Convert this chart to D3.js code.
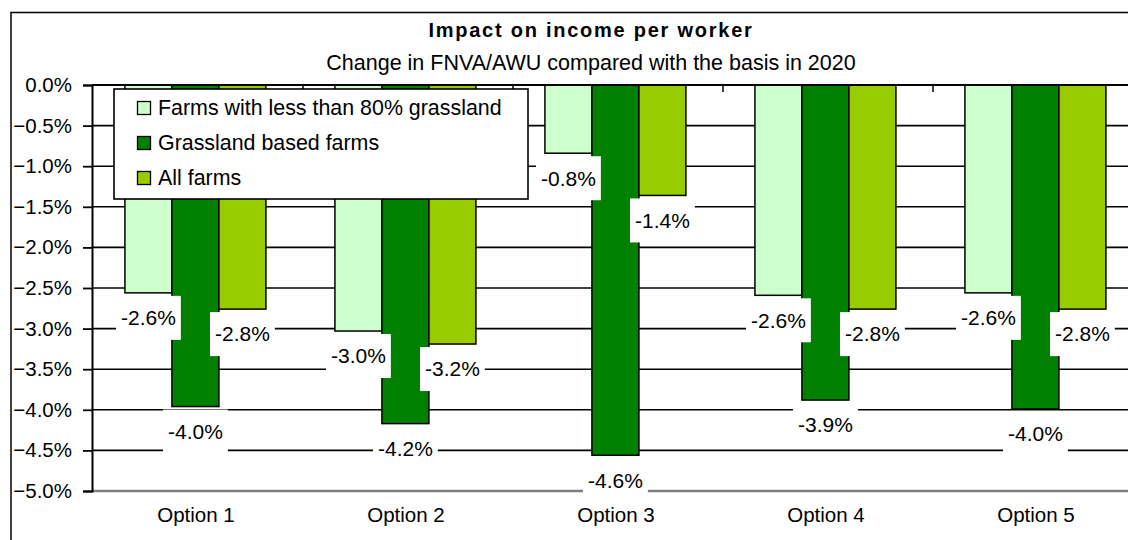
<!DOCTYPE html>
<html><head><meta charset="utf-8">
<script src="https://cdn.jsdelivr.net/npm/d3@7"></script>
<style>
html,body{margin:0;padding:0;background:#fff;}
svg text{font-family:"Liberation Sans",Arial,sans-serif;fill:#000;}
</style></head>
<body>
<svg id="chart" width="1128" height="540"></svg>
<script>
const categories = ["Option 1","Option 2","Option 3","Option 4","Option 5"];
const seriesNames = ["Farms with less than 80% grassland","Grassland based farms","All farms"];
const lessThan80 = [-2.56,-3.03,-0.84,-2.59,-2.56];
const grassland  = [-3.96,-4.17,-4.56,-3.88,-3.99];
const allFarms   = [-2.76,-3.19,-1.36,-2.76,-2.76];
const seriesValues = [lessThan80, grassland, allFarms];
const seriesColors = ["#CCFFCC","#008000","#99CC00"];
const yTicks = [0,-0.5,-1,-1.5,-2,-2.5,-3,-3.5,-4,-4.5,-5];
const titleText = "Impact on income per worker";
const subtitleText = "Change in FNVA/AWU compared with the basis in 2020";

const svg = d3.select("#chart");
const plot = {left:92, right:1143, top:85, bottom:491};

// outer border
svg.append("rect").attr("x",11).attr("y",12.5).attr("width",1160).attr("height",560)
  .attr("fill","#fff").attr("stroke","#000").attr("stroke-width",1.5);

const y = d3.scaleLinear().domain([-5,0]).range([plot.bottom, plot.top]);
const x0 = d3.scaleBand().domain(categories).range([93,1143]).padding(0);
const groupW = 141;
const x1 = d3.scaleBand().domain(seriesNames).range([0,groupW]).padding(0);
const groupStart = c => x0(c) + x0.bandwidth()*0.152;

// gridlines
svg.append("g").selectAll("line").data(yTicks.filter(t=>t<0 && t>-5)).join("line")
  .attr("x1",plot.left).attr("x2",plot.right)
  .attr("y1",d=>y(d)).attr("y2",d=>y(d))
  .attr("stroke","#000").attr("stroke-width",1.6);

// category ticks at zero line
svg.append("g").selectAll("line").data(categories.slice(1)).join("line")
  .attr("x1",d=>x0(d)).attr("x2",d=>x0(d)).attr("y1",y(0)).attr("y2",y(0)+7)
  .attr("stroke","#000").attr("stroke-width",1.5);

// bars
const barData = [];
seriesNames.forEach((s,si)=>categories.forEach((c,ci)=>barData.push({s,si,c,v:seriesValues[si][ci]})));
svg.append("g").selectAll("rect").data(barData).join("rect")
  .attr("x",d=>groupStart(d.c)+x1(d.s))
  .attr("width",x1.bandwidth())
  .attr("y",y(0))
  .attr("height",d=>y(d.v)-y(0))
  .attr("fill",d=>seriesColors[d.si])
  .attr("stroke","#000").attr("stroke-width",1.5);

// zero line
svg.append("line").attr("x1",plot.left).attr("x2",plot.right).attr("y1",y(0)).attr("y2",y(0))
  .attr("stroke","#000").attr("stroke-width",2);

// bottom axis (gray)
svg.append("line").attr("x1",plot.left).attr("x2",plot.right).attr("y1",y(-5)).attr("y2",y(-5))
  .attr("stroke","#808080").attr("stroke-width",2.6);

// left axis
const yAxis = d3.axisLeft(y).tickValues(yTicks).tickSize(9).tickPadding(11)
  .tickFormat(d=>d3.format(".1f")(d)+"%");
const ya = svg.append("g").attr("transform",`translate(${plot.left},0)`).call(yAxis);
ya.select(".domain").attr("stroke","#000").attr("stroke-width",2);
ya.selectAll(".tick line").attr("stroke","#000").attr("stroke-width",1.8);
ya.selectAll(".tick text").attr("font-size","20.5px").attr("font-family","Liberation Sans, Arial, sans-serif").attr("fill","#000");

// x category labels
const xAxis = d3.axisBottom(x0).tickSize(0).tickPadding(16);
const xa = svg.append("g").attr("transform",`translate(0,${plot.bottom})`).call(xAxis);
xa.select(".domain").remove();
xa.selectAll(".tick text").attr("font-size","20.5px").attr("font-family","Liberation Sans, Arial, sans-serif").attr("fill","#000")
  .attr("transform","translate(-2,0)");

// data labels
const lg = svg.append("g");
barData.forEach(d=>{
  const cx = groupStart(d.c)+x1(d.s)+x1.bandwidth()/2;
  const top = y(d.v)+3;
  const g = lg.append("g");
  const r = g.append("rect").attr("fill","#fff");
  const t = g.append("text").attr("x",cx).attr("y",top+22).attr("dy","0.35em")
    .attr("text-anchor","middle").attr("font-size","21px").text(d.v.toFixed(1)+"%");
  const w = t.node().getComputedTextLength()+10;
  r.attr("x",cx-w/2).attr("y",top).attr("width",w).attr("height",44);
});

// legend
const leg = svg.append("g");
leg.append("rect").attr("x",114).attr("y",89).attr("width",414).attr("height",110)
  .attr("fill","#fff").attr("stroke","#000").attr("stroke-width",1.6);
seriesNames.forEach((s,i)=>{
  const cy = 108 + i*35;
  leg.append("rect").attr("x",137.5).attr("y",cy-6.5).attr("width",13).attr("height",13)
    .attr("fill",seriesColors[i]).attr("stroke","#000").attr("stroke-width",1.3);
  leg.append("text").attr("x",158).attr("y",cy).attr("dy","0.35em").attr("font-size","21.4px").text(s);
});

// titles
svg.append("text").attr("x",591).attr("y",30).attr("dy","0.35em").attr("text-anchor","middle")
  .attr("font-size","20px").attr("font-weight","bold").attr("letter-spacing","1.75px").text(titleText);
svg.append("text").attr("x",591).attr("y",62).attr("dy","0.35em").attr("text-anchor","middle")
  .attr("font-size","21.5px").text(subtitleText);
</script>
</body></html>
